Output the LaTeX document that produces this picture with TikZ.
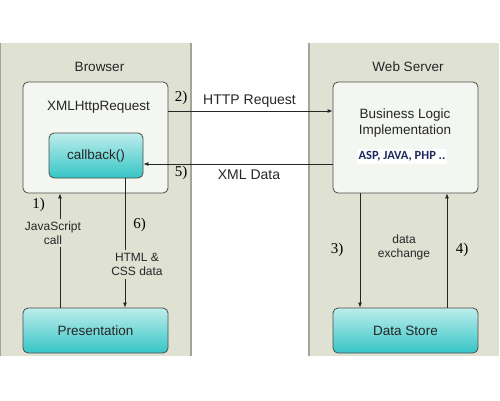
\documentclass[tikz,border=0pt]{standalone}
\usepackage{fontspec}
\setmainfont{Liberation Sans}
\newfontfamily\numfont{Liberation Serif}
\newfontfamily\aspfont{Carlito}
\usetikzlibrary{arrows.meta}
\definecolor{panelfill}{HTML}{DFE1D3}
\definecolor{panelline}{HTML}{A2A59B}
\definecolor{boxfill}{HTML}{F3F6F1}
\definecolor{boxline}{HTML}{4A4D48}
\definecolor{tealtop}{HTML}{BDEDEC}
\definecolor{tealbot}{HTML}{36C5C6}
\definecolor{txt}{HTML}{262626}
\definecolor{aspcol}{HTML}{1F2A5E}
\tikzset{
  panel/.style={fill=panelfill, draw=none},
  whitebox/.style={draw=boxline, fill=boxfill, rounded corners=5pt, line width=0.8pt, inner sep=0pt},
  tealbox/.style={draw=boxline, top color=tealtop, bottom color=tealbot, rounded corners=5pt, line width=0.8pt, inner sep=0pt, font=\fontsize{13.5}{15}\selectfont, text=txt},
  title/.style={font=\fontsize{13.5}{15}\selectfont, text=txt, inner sep=0pt},
  small/.style={font=\fontsize{12}{14}\selectfont, text=txt, align=center, inner xsep=1pt, inner ysep=3pt},
  num/.style={font=\numfont\fontsize{15}{16}\selectfont, text=black, inner sep=0pt},
  conn/.style={draw=txt, line width=0.8pt, -{Latex[length=5pt,width=4pt]}}
}
\begin{document}
\begin{tikzpicture}[x=1pt,y=-1pt]
\useasboundingbox (0,0) rectangle (500,400);
% panels
\fill[panel] (0,43) rectangle (191,356);
\fill[panelline] (0,43) rectangle (1.2,356);
\fill[panelline] (189.5,43) rectangle (191.5,356);
\fill[panel] (308,43) rectangle (499,356);
\fill[panelline] (307.5,43) rectangle (310,356);
\node[title] (browser) at (99.5,67) {Browser};
\node[title] (webserver) at (408,67) {Web Server};
% boxes
\node[whitebox, minimum width=145pt, minimum height=111pt] (xhr) at (95.5,137.5) {};
\node[title] (xhrtext) at (98.5,107) {XMLHttpRequest};
\node[tealbox, minimum width=94pt, minimum height=45pt] (cb) at (96,155.5) {callback()};
\node[tealbox, minimum width=145pt, minimum height=45pt] (pres) at (95.5,330.5) {Presentation};
\node[whitebox, minimum width=145pt, minimum height=111pt] (biz) at (405.5,137.5) {};
\node[title, align=center, font=\fontsize{13.5}{16}\selectfont] (biztext) at (405,123) {Business Logic\\Implementation};
\node[fill=white, inner xsep=2pt, inner ysep=2.5pt, text=aspcol, font=\aspfont\bfseries\fontsize{12.5}{14}\selectfont] (asp) at (402,156.5) {ASP, JAVA, PHP ..};
\node[tealbox, minimum width=145pt, minimum height=45pt] (ds) at (405.5,330.5) {Data Store};
% connectors
\draw[conn] ([yshift=26.5pt]xhr.east) -- ([yshift=26.5pt]biz.west);
\coordinate (xmlstart) at ([yshift=-26.5pt]biz.west);
\draw[conn] (xmlstart) -- (cb.east |- xmlstart);
\draw[conn] ([xshift=-35.5pt]pres.north) -- ([xshift=-35.5pt]xhr.south);
\draw[conn] ([xshift=29pt]cb.south) -- ([xshift=29pt]cb.south |- pres.north);
\draw[conn] ([xshift=-45.5pt]biz.south) -- ([xshift=-45.5pt]ds.north);
\draw[conn] ([xshift=41.5pt]ds.north) -- ([xshift=41.5pt]biz.south);
% labels
\node[num] (n2) at (181,98) {2)};
\node[title, font=\fontsize{14}{16}\selectfont] (httpreq) at (249.5,101) {HTTP Request};
\node[num] (n5) at (181,173) {5)};
\node[title, font=\fontsize{14}{16}\selectfont] (xmldata) at (249,175) {XML Data};
\node[num] (n1) at (38.5,205) {1)};
\node[small, fill=panelfill] (jscall) at (53,233) {JavaScript\\call};
\node[num] (n6) at (139.5,225) {6)};
\node[small, fill=panelfill] (htmlcss) at (137,264.5) {HTML \&\\CSS data};
\node[num] (n3) at (337,250) {3)};
\node[small] (dataex) at (404,247) {data\\exchange};
\node[num] (n4) at (462,250) {4)};
\end{tikzpicture}
\end{document}
